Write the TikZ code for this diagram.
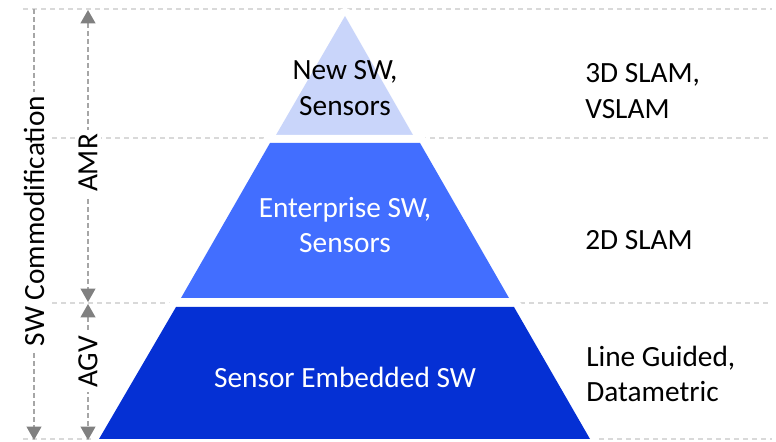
\documentclass[tikz,border=0pt]{standalone}
\usepackage{fontspec}
\setmainfont{Carlito}
\usetikzlibrary{arrows.meta}
\definecolor{tierlight}{RGB}{201,213,250}
\definecolor{tiermid}{RGB}{66,110,255}
\definecolor{tierdark}{RGB}{5,48,212}
\definecolor{rulegray}{RGB}{217,217,217}
\definecolor{spangray}{RGB}{166,166,166}
\definecolor{headgray}{RGB}{128,128,128}
\begin{document}
\begin{tikzpicture}[x=0.75pt,y=-0.75pt,
        every node/.style={font=\fontsize{22}{26.4}\selectfont},
        rowline/.style={rulegray, line width=1.1pt, dash pattern=on 3.75pt off 3pt},
        spanline/.style={spangray, line width=1.4pt, dash pattern=on 3.75pt off 2.25pt,
            >={Triangle[width=11pt,length=10pt,color=headgray]}},
        tier/.style={preaction={draw=white, line width=12pt, line join=round}},
        spanlabel/.style={fill=white, rotate=90, inner sep=3pt}]
        \useasboundingbox (0,0) rectangle (776,442);

        \coordinate (TL) at (23, 9);
        \coordinate (TR) at (772, 9);
        \coordinate (ML) at (52, 138);
        \coordinate (MR) at (772, 138);
        \coordinate (LL) at (52, 303);
        \coordinate (LR) at (772, 303);
        \coordinate (BL) at (23, 439);
        \coordinate (BR) at (772, 439);

        \draw[rowline] (TL) -- (TR);
        \draw[rowline] (ML) -- (MR);
        \draw[rowline] (LL) -- (LR);
        \draw[rowline] (BL) -- (BR);

        % pyramid
        \coordinate (A) at (345, 16);
        \coordinate (B1) at (276, 135);
        \coordinate (C1) at (413, 135);
        \coordinate (B2) at (270, 143);
        \coordinate (C2) at (420, 143);
        \coordinate (D2) at (509, 298);
        \coordinate (E2) at (181, 298);
        \coordinate (B3) at (176, 307);
        \coordinate (C3) at (514, 307);
        \coordinate (D3) at (590, 439);
        \coordinate (E3) at (99, 439);

        \fill[tierlight, tier] (A) -- (C1) -- (B1) -- cycle;
        \fill[tiermid, tier] (B2) -- (C2) -- (D2) -- (E2) -- cycle;
        \fill[tierdark, tier] (B3) -- (C3) -- (D3) -- (E3) -- cycle;

        \node[align=center] (newsw) at (345, 88) {New SW,\\Sensors};
        \node[align=center, white] (entsw) at (345, 225) {Enterprise SW,\\Sensors};
        \node[white] (embsw) at (345, 377) {Sensor Embedded SW};

        \node[right, align=left, inner sep=0] (vslam) at (585, 91) {3D SLAM,\\VSLAM};
        \node[right, inner sep=0] (slam) at (585, 240) {2D SLAM};
        \node[right, align=left, inner sep=0] (guided) at (586, 374) {Line Guided,\\Datametric};

        % spans on the left
        \coordinate (S1) at (34, 9);
        \coordinate (S2) at (34, 440);
        \coordinate (R1) at (88, 10);
        \coordinate (R2) at (88, 302);
        \coordinate (G1) at (88, 304);
        \coordinate (G2) at (88, 440);

        \draw[spanline, ->] (S1) -- (S2);
        \draw[spanline, <->] (R1) -- (R2);
        \draw[spanline, <->] (G1) -- (G2);

        \node[spanlabel] (swc) at (34, 221) {SW Commodification};
        \node[spanlabel] (amr) at (88, 163) {AMR};
        \node[spanlabel] (agv) at (88, 362) {AGV};
    \end{tikzpicture}
\end{document}
